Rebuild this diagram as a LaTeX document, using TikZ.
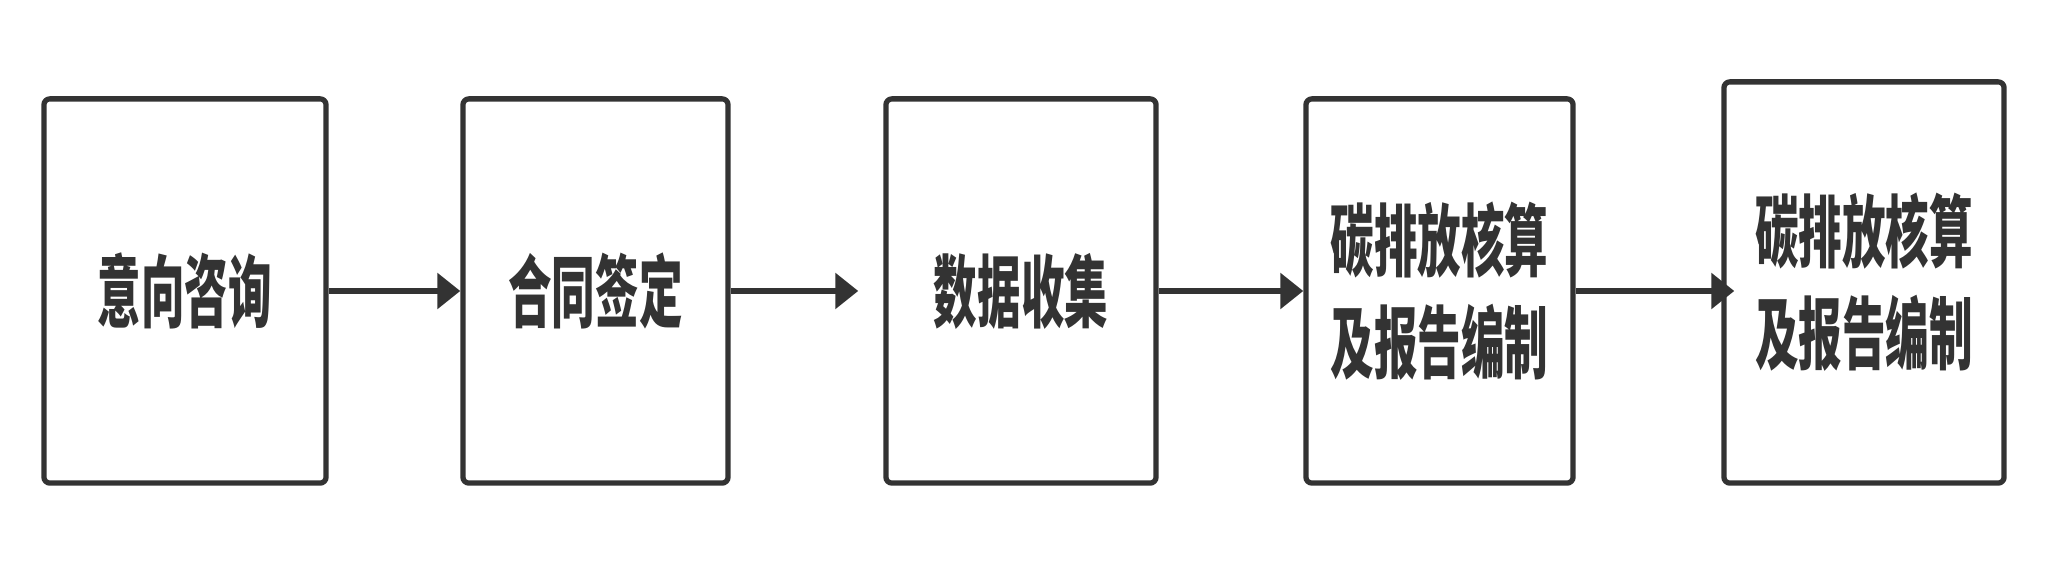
\documentclass[tikz,border=0pt]{standalone}
\usepackage{fontspec}
\newfontfamily\cjk[FakeStretch=0.55]{Noto Sans CJK SC}
\usetikzlibrary{arrows.meta}
\definecolor{ink}{HTML}{333333}

\begin{document}
\begin{tikzpicture}[
  x=0.01cm, y=-0.01cm,
  >={Triangle[length=0.23cm,width=0.35cm]},
  stage/.style={draw=ink,line width=1.5pt,rounded corners=0.06cm,fill=white,
                align=center,inner sep=0pt,text=ink,
                minimum width=2.7cm,minimum height=3.84cm,
                font=\cjk\bfseries\fontsize{22.5}{29}\selectfont},
  flow/.style={->,draw=ink,line width=1.9pt}
]
\useasboundingbox (0,0) rectangle (2051,568);

% stages
\node[stage,minimum width=2.82cm] (consult) at (185,291) {意向咨询};
\node[stage,minimum width=2.65cm] (contract) at (595.5,291) {合同签定};
\node[stage] (collect) at (1021,291) {数据收集};
\node[stage,minimum width=2.67cm] (account) at (1439.5,291)
  {碳排放核算\\及报告编制};
\node[stage,minimum width=2.8cm,minimum height=4.01cm] (report) at (1864,282.5)
  {碳排放核算\\及报告编制};

% connectors
\draw[flow] (consult.east) -- (contract.west);
\draw[flow,shorten >=0.25cm] (contract.east) -- (collect.west);
\draw[flow] (collect.east) -- (account.west);
\draw[flow,shorten >=-0.13cm] (account.east) -- (account.east -| report.west);
\end{tikzpicture}
\end{document}
